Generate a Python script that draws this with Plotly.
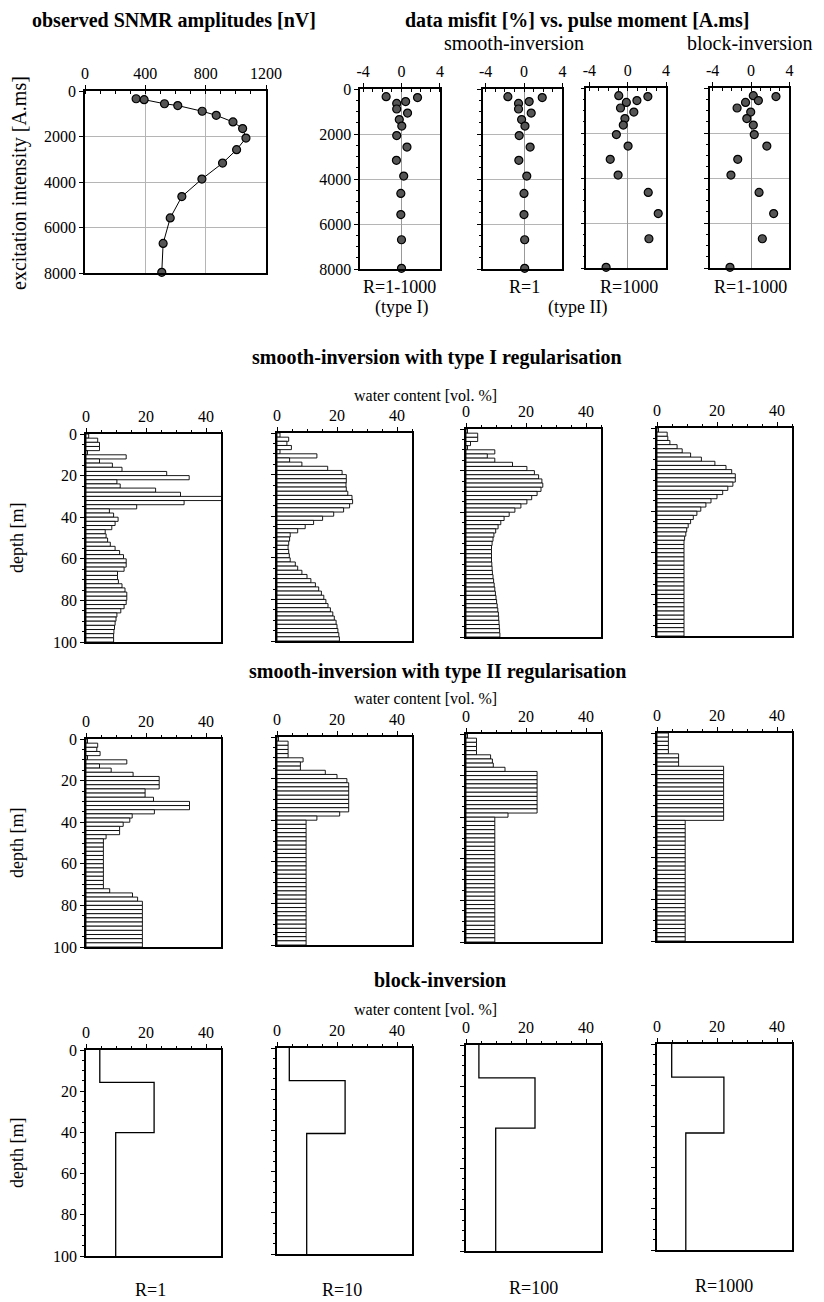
import plotly.graph_objects as go

# page body has an 8 px margin: the figure is drawn 8 px right/down of the window corner
PAGE_W, PAGE_H = 824, 1302
OFF = 8
W, H = PAGE_W - OFF, PAGE_H - OFF
FONT = "Liberation Serif"

# ---------------- data ----------------
pulse_moment = [340, 380, 560, 640, 890, 1070, 1360, 1650, 2070, 2580, 3170, 3870, 4640, 5580, 6700, 7970]
amplitude_nV = [339, 392, 527, 615, 777, 870, 981, 1045, 1067, 1005, 912, 775, 642, 565, 518, 509]

misfit_smooth_typeI = [-1.6, 1.67, 0.43, -0.5, -0.5, 0.63, -0.23, 0.03, -0.5, 0.57, -0.53, 0.23, -0.07, -0.07, 0.0, 0.0]
misfit_smooth_typeII_R1 = [-1.68, 1.9, 0.54, -0.57, -0.57, 0.75, -0.25, 0.1, -0.5, 0.64, -0.54, 0.29, 0.0, 0.0, 0.07, 0.07]
misfit_smooth_typeII_R1000 = [-0.93, 2.1, 0.96, -0.14, -0.75, 0.64, -0.29, -0.46, -1.18, 0.04, -1.82, -1.0, 2.14, 3.18, 2.21, -2.25]
misfit_block = [0.24, 2.6, 0.77, -0.57, -1.45, -0.03, -0.44, 0.24, 0.34, 1.65, -1.38, -2.09, 0.84, 2.36, 1.18, -2.19]

misfit_labels = ["R=1-1000", "R=1", "R=1000", "R=1-1000"]
R_labels = ["R=1", "R=10", "R=100", "R=1000"]

# layer mid-depths [m] (2 m layers, 0-100 m)
depth_mid = [1, 3, 5, 7, 9, 11, 13, 15, 17, 19, 21, 23, 25, 27, 29, 31, 33, 35, 37, 39,
             41, 43, 45, 47, 49, 51, 53, 55, 57, 59, 61, 63, 65, 67, 69, 71, 73, 75, 77, 79,
             81, 83, 85, 87, 89, 91, 93, 95, 97, 99]

# smooth inversion, type I regularisation (water content, vol. %)
typeI_R1 = [0.9, 3.9, 4.5, 4.5, 0.5, 13.4, 4.5, 8.8, 12.0, 26.9,
             34.4, 10.3, 11.4, 23.2, 31.5, 47.0, 32.7, 16.9, 7.8, 9.2,
             10.7, 9.7, 8.6, 6.4, 6.7, 7.2, 8.1, 9.7, 11.2, 12.5,
             13.4, 13.4, 12.7, 10.5, 10.5, 10.8, 12.0, 13.0, 13.6, 13.6,
             13.4, 12.7, 11.6, 10.3, 10.0, 9.7, 9.5, 9.3, 9.2, 9.2]
typeI_R10 = [1.0, 3.9, 3.3, 4.8, 1.0, 13.3, 4.2, 8.3, 16.9, 21.7,
              23.1, 23.1, 23.0, 23.1, 23.6, 25.0, 25.2, 24.2, 22.2, 18.9,
              15.2, 12.2, 9.4, 6.9, 4.4, 4.2, 3.9, 3.7, 3.9, 4.1,
              4.4, 6.1, 6.9, 8.3, 10.0, 11.3, 12.8, 13.9, 14.8, 15.6,
              16.3, 17.0, 17.8, 18.6, 19.1, 19.7, 20.0, 20.3, 20.6, 20.8]
typeI_R100 = [0.5, 3.9, 3.9, 1.5, 0.5, 9.6, 7.1, 9.6, 15.5, 20.3,
               22.8, 24.2, 25.3, 25.6, 25.0, 23.7, 21.9, 20.3, 18.3, 16.3,
               14.4, 12.7, 11.6, 10.7, 9.9, 9.3, 9.0, 8.7, 8.5, 8.5,
               8.5, 8.5, 8.6, 8.7, 8.8, 9.0, 9.2, 9.4, 9.6, 9.8,
               10.0, 10.2, 10.4, 10.6, 10.8, 10.9, 11.0, 11.1, 11.2, 11.3]
typeI_R1000 = [0.5, 3.4, 3.6, 4.3, 6.7, 8.4, 11.2, 14.8, 19.3, 23.0,
                24.9, 26.1, 26.1, 25.3, 23.6, 21.9, 20.0, 18.0, 16.3, 14.6,
                13.3, 12.1, 11.2, 10.4, 9.9, 9.6, 9.2, 9.0, 9.0, 9.0,
                9.0, 9.0, 9.0, 9.0, 9.0, 9.0, 9.0, 9.0, 9.0, 9.0,
                9.0, 9.0, 9.0, 9.0, 9.0, 9.0, 9.0, 9.0, 9.0, 9.0]

# smooth inversion, type II regularisation
typeII_R1 = [0.5, 3.9, 3.6, 4.7, 0.5, 13.6, 4.5, 8.4, 15.7, 24.4,
              24.4, 24.4, 19.7, 19.7, 22.5, 34.5, 34.5, 22.8, 15.4, 14.6,
              12.4, 11.2, 11.2, 6.7, 5.8, 5.8, 5.8, 5.8, 5.8, 5.8,
              5.8, 5.8, 5.8, 5.8, 5.8, 5.8, 7.9, 15.5, 17.2, 18.8,
              18.8, 18.8, 18.8, 18.8, 18.8, 18.8, 18.8, 18.8, 18.8, 18.8]
typeII_R10 = [0.5, 3.7, 3.7, 3.7, 3.7, 8.7, 7.8, 7.8, 16.1, 20.0,
               23.3, 23.9, 23.9, 23.9, 23.9, 23.9, 23.9, 23.9, 20.9, 13.3,
               9.7, 9.7, 9.7, 9.7, 9.7, 9.7, 9.7, 9.7, 9.7, 9.7,
               9.7, 9.7, 9.7, 9.7, 9.7, 9.7, 9.7, 9.7, 9.7, 9.7,
               9.7, 9.7, 9.7, 9.7, 9.7, 9.7, 9.7, 9.7, 9.7, 9.7]
typeII_R100 = [0.5, 3.5, 3.5, 3.5, 3.5, 8.2, 8.8, 9.1, 13.0, 23.7,
                23.7, 23.7, 23.7, 23.7, 23.7, 23.7, 23.7, 23.7, 23.7, 14.0,
                9.6, 9.6, 9.6, 9.6, 9.6, 9.6, 9.6, 9.6, 9.6, 9.6,
                9.6, 9.6, 9.6, 9.6, 9.6, 9.6, 9.6, 9.6, 9.6, 9.6,
                9.6, 9.6, 9.6, 9.6, 9.6, 9.6, 9.6, 9.6, 9.6, 9.6]
typeII_R1000 = [3.8, 3.8, 3.8, 3.8, 3.8, 7.2, 7.2, 7.2, 22.2, 22.2,
                 22.2, 22.2, 22.2, 22.2, 22.2, 22.2, 22.2, 22.2, 22.2, 22.2,
                 22.2, 9.4, 9.4, 9.4, 9.4, 9.4, 9.4, 9.4, 9.4, 9.4,
                 9.4, 9.4, 9.4, 9.4, 9.4, 9.4, 9.4, 9.4, 9.4, 9.4,
                 9.4, 9.4, 9.4, 9.4, 9.4, 9.4, 9.4, 9.4, 9.4, 9.4]

# block inversion: layer boundaries [m] and water content [vol. %]
block_bounds_R1 = [0, 15.7, 40.1, 100]
block_values_R1 = [4.6, 22.7, 9.9]
block_bounds_R10 = [0, 15.8, 41.5, 100]
block_values_R10 = [4.1, 22.7, 9.9]
block_bounds_R100 = [0, 16.0, 40.4, 100]
block_values_R100 = [4.3, 23.0, 9.9]
block_bounds_R1000 = [0, 16.1, 43.2, 100]
block_values_R1000 = [4.9, 22.3, 9.6]

# ---------------- helpers ----------------
fig = go.Figure()
layout = {}


def fx(x):
    return (x - OFF) / W


def fy(y):
    return 1 - (y - OFF) / H


def dom_x(x0, x1):
    return [fx(x0), fx(x1)]


def dom_y(y0, y1):
    return [fy(y1), fy(y0)]


def ax_name(i):
    return ("xaxis" if i == 1 else f"xaxis{i}"), ("yaxis" if i == 1 else f"yaxis{i}")


def ref(i):
    return ("x" if i == 1 else f"x{i}"), ("y" if i == 1 else f"y{i}")


TICKFONT = dict(family=FONT, size=16, color="black")
GRID = "#b5b5b5"


def base_axis():
    return dict(showline=True, linecolor="black", linewidth=1.5, mirror=True,
                ticks="outside", ticklen=4, tickwidth=1, tickcolor="black",
                tickfont=TICKFONT, zeroline=False, showgrid=False,
                fixedrange=True, automargin=False)


def add_axes(i, xd, yd, xopts, yopts):
    xn, yn = ax_name(i)
    xr, yr = ref(i)
    xa = base_axis()
    xa.update(domain=dom_x(*xd), anchor=yr, side="top")
    xa.update(xopts)
    ya = base_axis()
    ya.update(domain=dom_y(*yd), anchor=xr)
    ya.update(yopts)
    layout[xn] = xa
    layout[yn] = ya


marker_style = dict(size=8, color="#555555", line=dict(color="black", width=1.2))

# ---- row 1: amplitudes ----
add_axes(1, (85, 266), (91, 273),
         dict(range=[0, 1200], tickvals=[0, 400, 800, 1200], showgrid=True, gridcolor=GRID, gridwidth=0.8,
              minor=dict(ticks="inside", ticklen=3, dtick=100, tickcolor="black", showgrid=False)),
         dict(range=[8000, 0], tickvals=[0, 2000, 4000, 6000, 8000], showgrid=True, gridcolor=GRID, gridwidth=0.8))
x_, y_ = ref(1)
fig.add_trace(go.Scatter(x=amplitude_nV, y=pulse_moment, mode="lines+markers",
                         line=dict(color="black", width=1), marker=marker_style,
                         xaxis=x_, yaxis=y_, cliponaxis=False))

# ---- row 1: misfits ----
misfit_sets = [misfit_smooth_typeI, misfit_smooth_typeII_R1, misfit_smooth_typeII_R1000, misfit_block]
misfit_zero_px = [401.5, 524, 627.7, 751]
misfit_tops = [89, 89, 88, 88]
scale = 9.6
for k, (vals, z0, top) in enumerate(zip(misfit_sets, misfit_zero_px, misfit_tops)):
    i = 2 + k
    add_axes(i, (z0 - 4.3 * scale, z0 + 4.0 * scale), (top, top + 180),
             dict(range=[-4.3, 4.0], tickvals=[-4, 0, 4], ticktext=["-4", "0", "4"],
                  zeroline=True, zerolinecolor="#999999", zerolinewidth=0.8,
                  minor=dict(ticks="inside", ticklen=3, dtick=1, tickcolor="black", showgrid=False)),
             dict(range=[8000, 0], tickvals=[0, 2000, 4000, 6000, 8000], showgrid=True, gridcolor=GRID,
                  gridwidth=0.8, showticklabels=(k == 0),
                  minor=dict(ticks="outside", ticklen=2, dtick=500, tickcolor="black", showgrid=False)))
    x_, y_ = ref(i)
    fig.add_trace(go.Scatter(x=vals, y=pulse_moment, mode="markers", marker=marker_style,
                             xaxis=x_, yaxis=y_, cliponaxis=False))

# ---- rows 2-4: depth profiles ----
col_x = [(86, 221), (277, 412), (466, 601), (657, 792)]
row_tops = [[434, 433, 429, 428], [739, 737, 734, 733], [1050, 1048, 1045, 1044]]
row_h = [208, 208, 206]

bar_rows = [[typeI_R1, typeI_R10, typeI_R100, typeI_R1000],
            [typeII_R1, typeII_R10, typeII_R100, typeII_R1000]]
blocks = [(block_bounds_R1, block_values_R1), (block_bounds_R10, block_values_R10),
          (block_bounds_R100, block_values_R100), (block_bounds_R1000, block_values_R1000)]

idx = 6
for r in range(3):
    for c in range(4):
        top = row_tops[r][c]
        add_axes(idx, col_x[c], (top, top + row_h[r]),
                 dict(range=[0, 45], tickvals=[0, 20, 40],
                      minor=dict(ticks="outside", ticklen=2, dtick=5, tickcolor="black", showgrid=False)),
                 dict(range=[100, 0], tickvals=[0, 20, 40, 60, 80, 100], showticklabels=(c == 0),
                      minor=dict(ticks="outside", ticklen=2, dtick=5, tickcolor="black", showgrid=False)))
        x_, y_ = ref(idx)
        if r < 2:
            fig.add_trace(go.Bar(x=bar_rows[r][c], y=depth_mid, orientation="h", width=2,
                                 marker=dict(color="white", line=dict(color="black", width=0.9)),
                                 xaxis=x_, yaxis=y_))
        else:
            bounds, vals = blocks[c]
            xs, ys = [], []
            for j, v in enumerate(vals):
                xs += [v, v]
                ys += [bounds[j], bounds[j + 1]]
            fig.add_trace(go.Scatter(x=xs, y=ys, mode="lines", line=dict(color="black", width=1.3),
                                     xaxis=x_, yaxis=y_))
        idx += 1

# ---------------- annotations ----------------
anns = []


def ann(text, x, y, size, bold=False, angle=0):
    anns.append(dict(text=(f"<b>{text}</b>" if bold else text), x=fx(x), y=fy(y),
                     xref="paper", yref="paper", xanchor="center", yanchor="middle",
                     showarrow=False, textangle=angle,
                     font=dict(family=FONT, size=size, color="black")))


ann("observed SNMR amplitudes [nV]", 174, 20, 20, bold=True)
ann("data misfit [%] vs. pulse moment [A.ms]", 577, 20, 20, bold=True)
ann("smooth-inversion", 514, 43, 20)
ann("block-inversion", 750, 43, 20)
ann("excitation intensity [A.ms]", 20, 183, 20, angle=-90)

for lab, x in zip(misfit_labels, [399, 524, 629, 750]):
    ann(lab, x, 287, 18)
ann("(type I)", 401, 307, 18)
ann("(type II)", 577, 307, 18)

ann("smooth-inversion with type I regularisation", 437, 358, 20, bold=True)
ann("smooth-inversion with type II regularisation", 437, 671, 20, bold=True)
ann("block-inversion", 440, 980, 20, bold=True)
for y in [395, 699, 1009]:
    ann("water content [vol. %]", 426, y, 16)
for y in [538, 843, 1153]:
    ann("depth [m]", 17, y, 18, angle=-90)
for lab, x, y in zip(R_labels, [150, 342, 533, 724], [1290, 1290, 1288, 1286]):
    ann(lab, x, y, 18)

layout.update(width=W, height=H, margin=dict(l=0, r=0, t=0, b=0), template="none",
              paper_bgcolor="white", plot_bgcolor="white", showlegend=False,
              barmode="overlay", annotations=anns, font=dict(family=FONT, color="black"))
fig.update_layout(**layout)
fig.write_html("out.html")
